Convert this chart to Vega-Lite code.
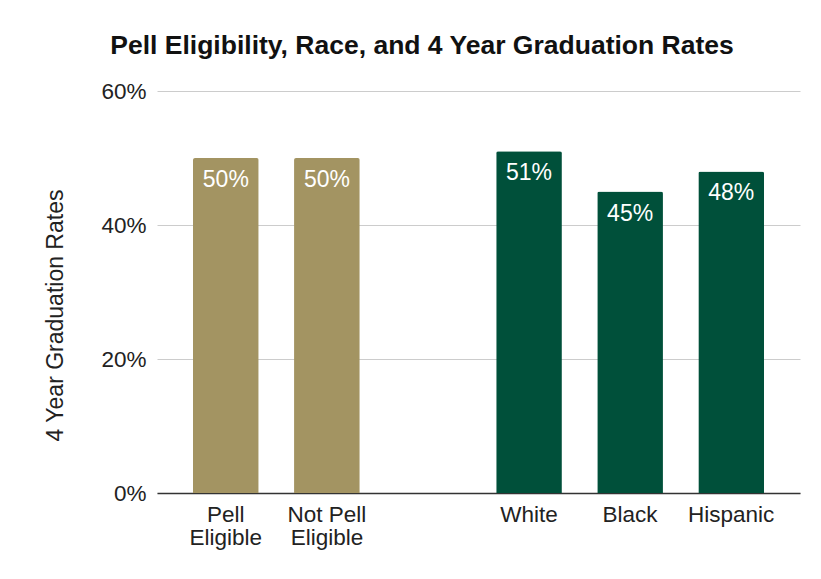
{
  "$schema": "https://vega.github.io/schema/vega-lite/v6.json",
  "width": 643,
  "height": 402,
  "autosize": {"type": "none"},
  "padding": {"left": 157, "top": 91, "right": 21, "bottom": 86},
  "background": "white",
  "title": {
    "text": "Pell Eligibility, Race, and 4 Year Graduation Rates",
    "font": "Liberation Sans",
    "fontSize": 26.5,
    "fontWeight": "bold",
    "color": "#111111",
    "anchor": "middle",
    "frame": "bounds",
    "baseline": "alphabetic",
    "offset": 0
  },
  "config": {"view": {"stroke": null}},
  "data": {
    "values": [
      {"category": "Pell Eligible", "rate": 0.50, "group": "Pell"},
      {"category": "Not Pell Eligible", "rate": 0.50, "group": "Pell"},
      {"category": "White", "rate": 0.51, "group": "Race"},
      {"category": "Black", "rate": 0.45, "group": "Race"},
      {"category": "Hispanic", "rate": 0.48, "group": "Race"}
    ]
  },
  "encoding": {
    "x": {
      "field": "category",
      "type": "nominal",
      "sort": null,
      "scale": {
        "domain": ["Pell Eligible", "Not Pell Eligible", " ", "White", "Black", "Hispanic"],
        "paddingInner": 0.35,
        "paddingOuter": 0.356
      },
      "axis": {
        "title": null,
        "labelAngle": 0,
        "ticks": false,
        "grid": false,
        "domain": true,
        "domainColor": "#333333",
        "domainWidth": 1.5,
        "labelFont": "Liberation Sans",
        "labelFontSize": 22.5,
        "labelColor": "#222222",
        "labelPadding": 10,
        "labelLineHeight": 23,
        "labelBaseline": "top",
        "labelExpr": "datum.value == 'Pell Eligible' ? ['Pell', 'Eligible'] : datum.value == 'Not Pell Eligible' ? ['Not Pell', 'Eligible'] : datum.label"
      }
    },
    "y": {
      "field": "rate",
      "type": "quantitative",
      "scale": {"domain": [0, 0.6], "nice": false},
      "axis": {
        "values": [0, 0.2, 0.4, 0.6],
        "format": ".0%",
        "title": "4 Year Graduation Rates",
        "titleFont": "Liberation Sans",
        "titleFontSize": 23,
        "titleFontWeight": "normal",
        "titleColor": "#222222",
        "titleAngle": -90,
        "titleAlign": "center",
        "titleBaseline": "alphabetic",
        "titleX": -95,
        "titleY": 224,
        "domain": false,
        "ticks": false,
        "grid": true,
        "gridColor": "#cccccc",
        "gridWidth": 1,
        "labelFont": "Liberation Sans",
        "labelFontSize": 22.5,
        "labelColor": "#222222",
        "labelPadding": 11
      }
    }
  },
  "layer": [
    {
      "mark": {"type": "bar", "cornerRadiusTopLeft": 2, "cornerRadiusTopRight": 2},
      "encoding": {
        "color": {
          "field": "group",
          "type": "nominal",
          "scale": {"domain": ["Pell", "Race"], "range": ["#A39462", "#00503A"]},
          "legend": null
        }
      }
    },
    {
      "mark": {
        "type": "text",
        "color": "white",
        "font": "Liberation Sans",
        "fontSize": 23,
        "baseline": "alphabetic",
        "align": "center",
        "dy": 29
      },
      "encoding": {
        "text": {"field": "rate", "type": "quantitative", "format": ".0%"}
      }
    }
  ]
}
